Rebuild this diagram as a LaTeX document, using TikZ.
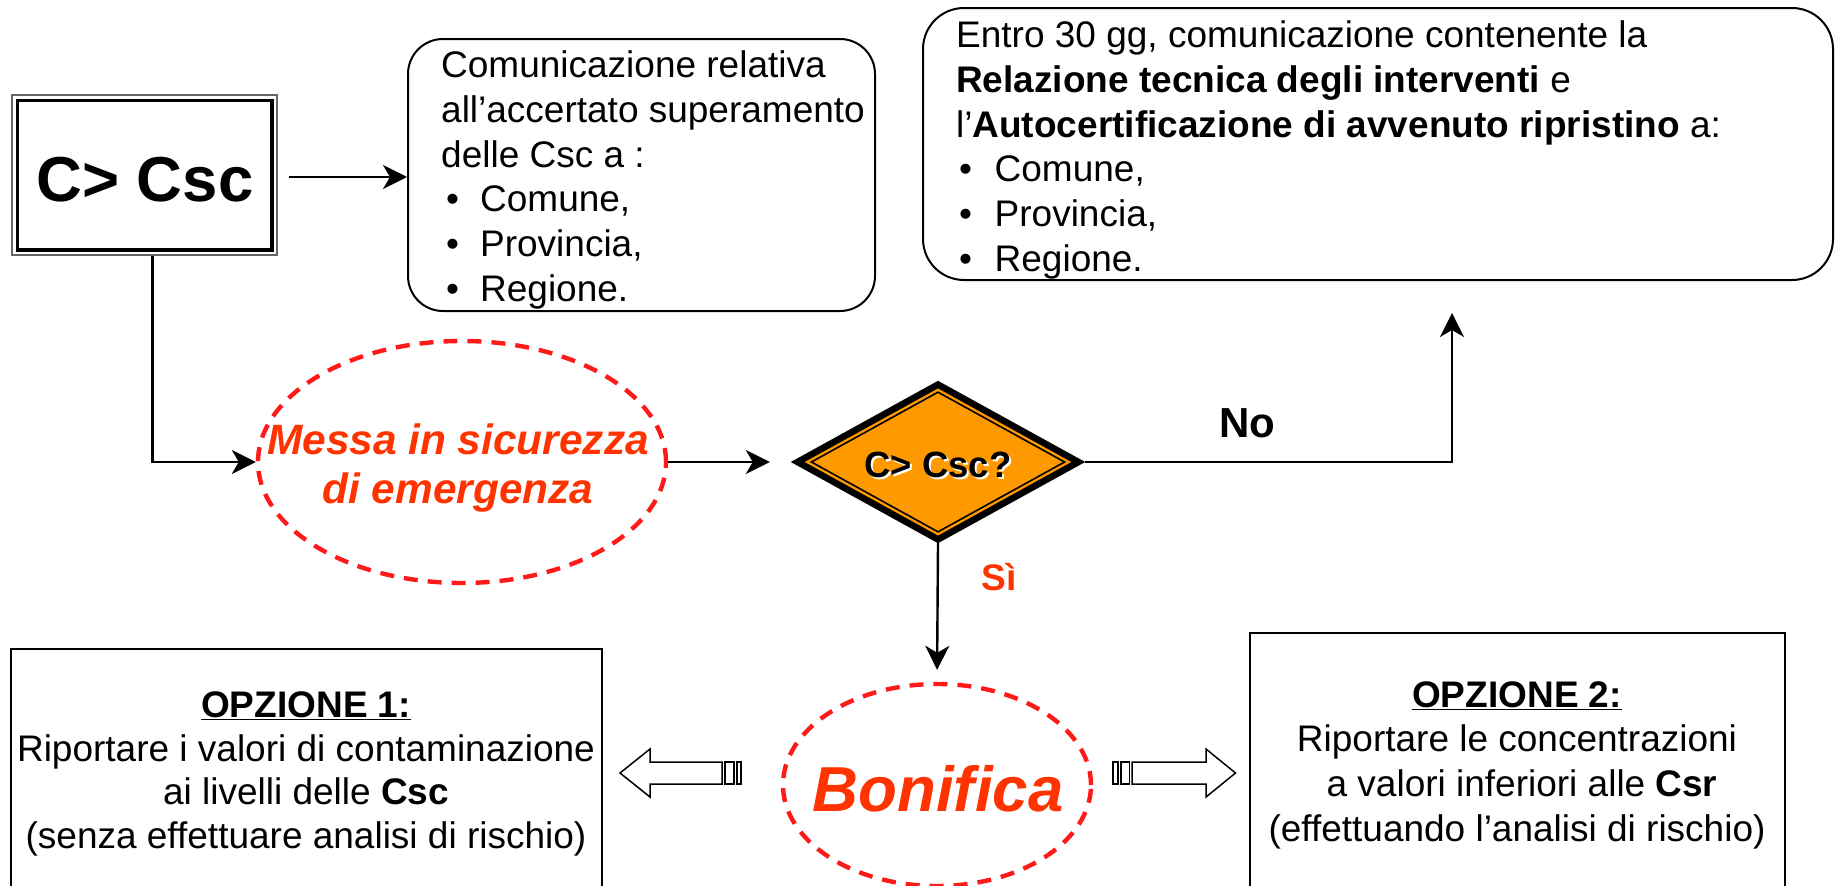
\documentclass[tikz,border=0pt]{standalone}
\usepackage{fontspec}
\setmainfont{Liberation Sans}
\usetikzlibrary{arrows.meta,shapes.geometric,calc}
\definecolor{redorange}{HTML}{FF3300}
\definecolor{dashred}{HTML}{FF1A1A}
\definecolor{diaorange}{HTML}{FF9900}
\newcommand\myfs[2]{\fontsize{#1}{#2}\selectfont}
\begin{document}
\begin{tikzpicture}[x=1pt,y=-1pt,
  conn/.style={line width=2.4pt,-{Stealth[length=24pt,width=24pt,inset=7pt]}},
  dashell/.style={ellipse,draw=dashred,line width=4.4pt,dash pattern=on 14pt off 10pt,inner sep=0},
  roundbox/.style={draw,line width=2pt,inner sep=0},
  txt/.style={inner sep=0,font=\myfs{37}{44.7}},
  blockarrow/.style={draw,line width=1.5pt,fill=white}]
\useasboundingbox (0,0) rectangle (1839,886);

% C > Csc box
\node[draw=black!60,line width=1.5pt,minimum width=265,minimum height=160,inner sep=0] (csc) at (144.5,175) {};
\draw[line width=3.5pt] ([shift={(6,6)}]csc.north west) rectangle ([shift={(-6,-6)}]csc.south east);
\node[inner sep=0,font=\bfseries\myfs{63.5}{70}] (csctxt) at (145,180) {C> Csc};

% communication box 1
\node[roundbox,rounded corners=35pt,minimum width=467,minimum height=272] (comm1) at (641.5,175) {};
\node[txt,anchor=west,align=left] (comm1txt) at (441,180) {Comunicazione relativa\\
all’accertato superamento\\
delle Csc a :\\
\makebox[39pt][l]{\hspace{5pt}\textbullet}Comune,\\
\makebox[39pt][l]{\hspace{5pt}\textbullet}Provincia,\\
\makebox[39pt][l]{\hspace{5pt}\textbullet}Regione.};

% communication box 2
\node[roundbox,rounded corners=41pt,minimum width=910,minimum height=272] (comm2) at (1378,144) {};
\node[txt,anchor=west,align=left] (comm2txt) at (956,150) {Entro 30 gg, comunicazione contenente la\\
\textbf{Relazione tecnica degli interventi} e\\
l’\textbf{Autocertificazione di avvenuto ripristino} a:\\
\makebox[38.5pt][l]{\hspace{3pt}\textbullet}Comune,\\
\makebox[38.5pt][l]{\hspace{3pt}\textbullet}Provincia,\\
\makebox[38.5pt][l]{\hspace{3pt}\textbullet}Regione.};

% messa in sicurezza
\node[dashell,minimum width=408,minimum height=242] (messa) at (462,462) {};
\node[inner sep=0,align=center,text=redorange,font=\bfseries\itshape\myfs{42.4}{49}] (messatxt) at (458,468.5) {Messa in sicurezza\\di emergenza};

% diamond
\node[inner sep=0,minimum width=294,minimum height=162] (dia) at (938,462) {};
\fill[black] (dia.north) -- (dia.east) -- (dia.south) -- (dia.west) -- cycle;
\fill[diaorange] ($(dia.center)!0.905!(dia.north)$) -- ($(dia.center)!0.905!(dia.east)$) -- ($(dia.center)!0.905!(dia.south)$) -- ($(dia.center)!0.905!(dia.west)$) -- cycle;
\draw[line width=1.6pt] ($(dia.center)!0.86!(dia.north)$) -- ($(dia.center)!0.86!(dia.east)$) -- ($(dia.center)!0.86!(dia.south)$) -- ($(dia.center)!0.86!(dia.west)$) -- cycle;
\node[inner sep=0,text=white,font=\bfseries\myfs{36.5}{40}] (diashadow) at (940,467) {C> Csc?};
\node[inner sep=0,font=\bfseries\myfs{36.5}{40}] (diatxt) at (938,465) {C> Csc?};

% bonifica
\node[dashell,minimum width=308,minimum height=202] (bon) at (937,785) {};
\node[inner sep=0,text=redorange,font=\bfseries\itshape\myfs{63.6}{70}] (bontxt) at (938,789) {Bonifica};

% connectors
\coordinate (notip) at (1452,313);
\draw[conn,shorten <=11pt] (csc.east |- 0,177) -- (comm1.west |- 0,177);
\draw[conn] ([xshift=8pt]csc.south) |- (messa.west);
\draw[conn,shorten >=21pt] (messa.east) -- (dia.west);
\draw[conn] (dia.east) -| (notip);
\draw[conn,shorten >=12pt] (dia.south) -- (bon.north);
\node[inner sep=0,font=\bfseries\myfs{42}{46}] (no) at (1247,423) {No};
\node[inner sep=0,text=redorange,font=\bfseries\myfs{37}{40}] (si) at (999,577) {Sì};

% block arrows
\draw[blockarrow] (620,773) -- (650,749) -- (650,762) -- (722,762) -- (722,784) -- (650,784) -- (650,797) -- cycle;
\draw[line width=1.5pt] (725,762) rectangle (734,784);
\draw[line width=1.5pt] (737,762) rectangle (741,784);
\draw[blockarrow] (1235.5,773) -- (1206,749) -- (1206,762) -- (1132,762) -- (1132,784) -- (1206,784) -- (1206,797) -- cycle;
\draw[line width=1.5pt] (1121,762) rectangle (1129.5,784);
\draw[line width=1.5pt] (1113,762) rectangle (1118,784);

% option boxes
\draw[line width=2pt] (11,892) -- (11,649) -- (602,649) -- (602,892);
\node[inner sep=0,align=center,font=\myfs{37}{43.7}] (opt1) at (306,774) {\textbf{\underline{OPZIONE 1:}}\\
Riportare i valori di contaminazione\\
ai livelli delle \textbf{Csc}\\
(senza effettuare analisi di rischio)};
\draw[line width=2pt] (1250,892) -- (1250,633) -- (1785,633) -- (1785,892);
\node[inner sep=0,align=center,font=\myfs{37}{44.7}] (opt2) at (1517,765) {\textbf{\underline{OPZIONE 2:}}\\
Riportare le concentrazioni\\
\hspace*{10pt}a valori inferiori alle \textbf{Csr}\\
(effettuando l’analisi di rischio)};
\end{tikzpicture}
\end{document}
